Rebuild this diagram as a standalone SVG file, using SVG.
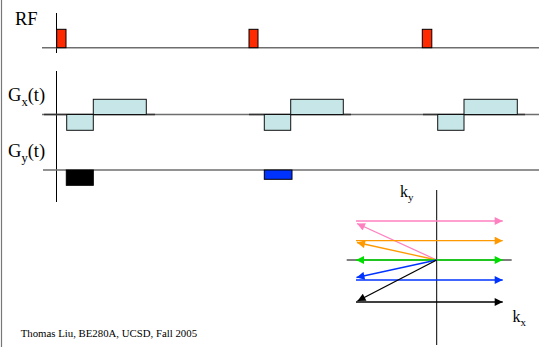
<svg xmlns="http://www.w3.org/2000/svg" width="539" height="347" viewBox="0 0 539 347">
<style>
.lbl{font-family:"Liberation Serif","Times New Roman",serif;fill:#000}
.ax{stroke:#6e6e6e;stroke-width:1.5;fill:none}
.axd{stroke:#333;stroke-width:1.5;fill:none}
.vax{stroke:#000;stroke-width:1;fill:none}
.rf{fill:#ff2a00;stroke:#000;stroke-width:1}
.gx{fill:#c6e6e8;stroke:#111;stroke-width:1}
.k{stroke-width:1.3;fill:none}
</style>
<defs>
<marker id="mPink" viewBox="0 0 10 10" refX="10" refY="5" markerWidth="10" markerHeight="8" markerUnits="userSpaceOnUse" orient="auto-start-reverse"><path d="M0,0 L10,5 L0,10 z" fill="#ff80c0"/></marker>
<marker id="mOrange" viewBox="0 0 10 10" refX="10" refY="5" markerWidth="10" markerHeight="8" markerUnits="userSpaceOnUse" orient="auto-start-reverse"><path d="M0,0 L10,5 L0,10 z" fill="#ff9900"/></marker>
<marker id="mGreen" viewBox="0 0 10 10" refX="10" refY="5" markerWidth="10" markerHeight="8" markerUnits="userSpaceOnUse" orient="auto-start-reverse"><path d="M0,0 L10,5 L0,10 z" fill="#00dd00"/></marker>
<marker id="mBlue" viewBox="0 0 10 10" refX="10" refY="5" markerWidth="10" markerHeight="8" markerUnits="userSpaceOnUse" orient="auto-start-reverse"><path d="M0,0 L10,5 L0,10 z" fill="#0033ff"/></marker>
<marker id="mBlack" viewBox="0 0 10 10" refX="10" refY="5" markerWidth="10" markerHeight="8" markerUnits="userSpaceOnUse" orient="auto-start-reverse"><path d="M0,0 L10,5 L0,10 z" fill="#000"/></marker>
</defs>
<rect width="539" height="347" fill="#fff"/>
<line x1="1.5" y1="0" x2="1.5" y2="347" stroke="#777" stroke-width="1.2"/>

<g id="rf-row">
<text class="lbl" x="15" y="25" font-size="18.5">RF</text>
<line class="vax" x1="56.5" y1="13" x2="56.5" y2="53"/>
<line class="ax" x1="42" y1="47.7" x2="539" y2="47.7"/>
<rect class="rf" x="56.7" y="29.3" width="9.3" height="18.4"/>
<rect class="rf" x="249" y="29.3" width="9" height="18.4"/>
<rect class="rf" x="422.3" y="29.3" width="9.5" height="18.4"/>
</g>

<g id="gx-row">
<text class="lbl" x="8" y="101" font-size="18.5">G<tspan font-size="12.5" dy="5">x</tspan><tspan dy="-5">(t)</tspan></text>
<line class="vax" x1="56.5" y1="71" x2="56.5" y2="202"/>
<line class="ax" x1="42" y1="114.5" x2="539" y2="114.5"/>
<line class="axd" x1="44" y1="114.5" x2="155" y2="114.5"/>
<line class="axd" x1="249" y1="114.5" x2="351" y2="114.5"/>
<line class="axd" x1="423" y1="114.5" x2="525" y2="114.5"/>
<rect class="gx" x="66.7" y="114.5" width="26.6" height="15.8"/>
<rect class="gx" x="93.3" y="99.3" width="53" height="15.2"/>
<rect class="gx" x="264.3" y="114.5" width="26.4" height="15.8"/>
<rect class="gx" x="290.7" y="99.3" width="52.6" height="15.2"/>
<rect class="gx" x="437.7" y="114.5" width="26.3" height="15.8"/>
<rect class="gx" x="464" y="99.3" width="53.3" height="15.2"/>
</g>

<g id="gy-row">
<text class="lbl" x="8" y="156.7" font-size="18.5">G<tspan font-size="12.5" dy="5">y</tspan><tspan dy="-5">(t)</tspan></text>
<line class="ax" x1="43" y1="170" x2="539" y2="170"/>
<rect x="66.3" y="170" width="27" height="15.3" fill="#000" stroke="#000" stroke-width="1"/>
<rect x="264.3" y="170" width="27.7" height="9.3" fill="#0033ff" stroke="#000" stroke-width="1"/>
</g>

<g id="kspace-axes">
<line class="vax" x1="436.7" y1="190" x2="436.7" y2="345"/>
<line class="vax" x1="346.7" y1="260" x2="511.7" y2="260"/>
<text class="lbl" x="400" y="196.7" font-size="16">k<tspan font-size="11" dy="4">y</tspan></text>
<text class="lbl" x="512.5" y="321.7" font-size="16">k<tspan font-size="11" dy="4">x</tspan></text>
</g>

<g id="connectors">
<line class="k" stroke="#ff80c0" x1="356" y1="221" x2="502.7" y2="221" marker-end="url(#mPink)"/>
<line class="k" stroke="#ff80c0" x1="436.7" y1="260" x2="357" y2="223.5" marker-end="url(#mPink)"/>
<line class="k" stroke="#ff9900" x1="356" y1="240.7" x2="502.7" y2="240.7" marker-end="url(#mOrange)"/>
<line class="k" stroke="#ff9900" x1="436.7" y1="260" x2="357" y2="242.5" marker-end="url(#mOrange)"/>
<line class="k" stroke="#00dd00" x1="356" y1="260" x2="502.7" y2="260" marker-start="url(#mGreen)" marker-end="url(#mGreen)"/>
<line class="k" stroke="#0033ff" x1="436.7" y1="260" x2="356.5" y2="277.5" marker-end="url(#mBlue)"/>
<line class="k" stroke="#0033ff" x1="356" y1="280" x2="502.7" y2="280" marker-end="url(#mBlue)"/>
<line class="k" stroke="#000" x1="436.7" y1="260" x2="357.5" y2="301" marker-end="url(#mBlack)"/>
<line class="k" stroke="#000" x1="356" y1="302" x2="502.7" y2="302" marker-end="url(#mBlack)"/>
</g>

<text class="lbl" x="20.7" y="336.7" font-size="10.8">Thomas Liu, BE280A, UCSD, Fall 2005</text>
</svg>
